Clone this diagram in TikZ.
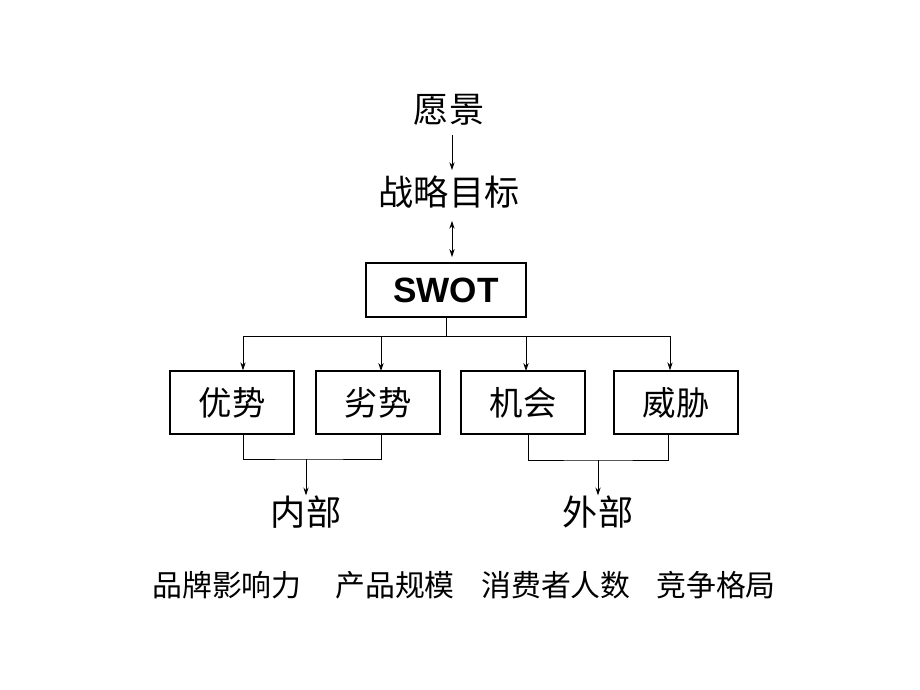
\documentclass[tikz,border=0pt]{standalone}
\usepackage{fontspec}
\setmainfont{Liberation Sans}
\newfontfamily\cjk{Noto Sans CJK SC}
\usetikzlibrary{arrows.meta}

\tikzset{
  word/.style={font=\cjk\fontsize{20}{24}\selectfont, inner sep=0pt},
  small/.style={font=\cjk\fontsize{17}{20}\selectfont, inner sep=0pt},
  box/.style={draw, rectangle, thick, minimum width=2.48cm, minimum height=1.26cm, font=\cjk\fontsize{19}{23}\selectfont},
  wire/.style={line width=0.5pt},
}

\begin{document}
\begin{tikzpicture}[x=0.02cm, y=-0.02cm, >={Stealth[length=4.5pt,width=3pt]}]
				\useasboundingbox (0,0) rectangle (920,690);
				\node[word] (V)at(449,110) {愿景};
				\node[word] (G)at(449,192) {战略目标};
				\node[draw, rectangle, thick, minimum width=3.2cm, minimum height=1.08cm, font=\bfseries\fontsize{20}{24}\selectfont] (S)at(446,290) {SWOT};
				\node[box] (YS)at(232,402.5) {优势};
				\node[box] (LS)at(378,402.5) {劣势};
				\node[box] (JH)at(523,402.5) {机会};
				\node[box] (WX)at(676,402.5) {威胁};
				\node[word] (NB)at(306,512) {内部};
				\node[word] (WB)at(598,512) {外部};
				\node[small] (P1)at(227,585) {品牌影响力};
				\node[small] (P2)at(395,585) {产品规模};
				\node[small] (P3)at(556,585) {消费者人数};
				\node[small] (P4)at(716,585) {竞争格局};
				% top of the tree
				\coordinate (T)at(446,336);
				\coordinate (T1)at(243,336);
				\coordinate (T4)at(670,336);
				\coordinate (TL)at(306,459);
				\coordinate (TR)at(598,460);
				\draw[wire, ->, shorten <=5pt, shorten >=3pt] ([xshift=1.7pt]V.south) -- ([xshift=1.7pt]G.north);
				\draw[wire, <->, shorten <=7pt, shorten >=3pt] ([xshift=1.7pt]G.south) -- ([xshift=1.7pt]G.south |- S.north);
				\draw[wire] (S) -- (T);
				\draw[wire] (T1) -- (T4);
				\draw[wire, ->] (T1) -- (T1 |- YS.north);
				\draw[wire, ->] (381,336) -- (381,371);
				\draw[wire, ->] (526,336) -- (526,371);
				\draw[wire, ->] (T4) -- (T4 |- WX.north);
				% bottom of the boxes
				\draw[wire] (YS.south -| T1) |- (TL) -| (381,434);
				\draw[wire] (528,434) |- (TR) -| (668,434);
				\draw[wire, ->] (TL) -- (NB);
				\draw[wire, ->] (TR) -- (WB);
			\end{tikzpicture}
\end{document}
